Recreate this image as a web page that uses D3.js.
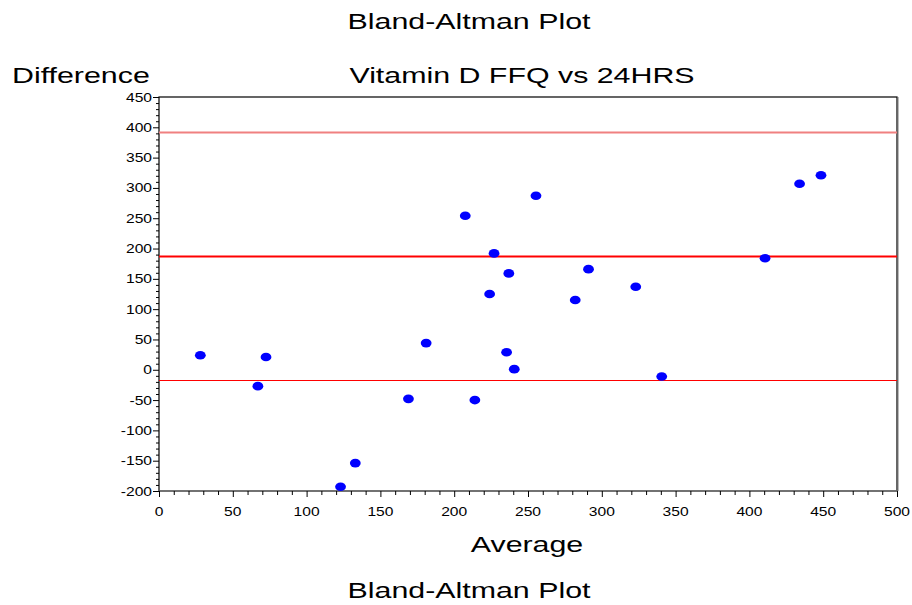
<!DOCTYPE html>
<html>
<head>
<meta charset="utf-8">
<script src="https://cdn.jsdelivr.net/npm/d3@7"></script>
<style>
   html, body { margin: 0; padding: 0; background: #fff; }
   svg { display: block; font-family: "Liberation Sans", Arial, sans-serif; }
</style>
</head>
<body>
<svg id="chart"></svg>
<script>
// averages (x) and differences (y)
const average = [28, 67, 72.5, 123, 133, 169, 181, 207.5, 214, 224, 227, 235.5, 237, 240.7,
   255.4, 282, 291, 323, 340.6, 410.6, 434, 448.5];
const difference = [24, -27, 21, -193, -154, -48, 44, 254, -50, 125, 192, 29, 159, 1,
   287, 115, 166, 137, -11, 184, 307, 321];

// mean difference and limits of agreement
const meanDiff = 188;
const upperLimit = 392.5;
const lowerLimit = -16.5;

const xTicks = [0, 50, 100, 150, 200, 250, 300, 350, 400, 450, 500];
const yTicks = [-200, -150, -100, -50, 0, 50, 100, 150, 200, 250, 300, 350, 400, 450];

const width = 912, height = 605;
const margin = { top: 97, right: 15, bottom: 114, left: 159 };

const svg = d3.select("#chart").attr("width", width).attr("height", height);

const x = d3.scaleLinear().domain([0, 500]).range([margin.left, width - margin.right]);
const y = d3.scaleLinear().domain([-200, 450]).range([height - margin.bottom, margin.top]);

// stretched text, the source renders its labels wider than the font
const label = (txt, px, py, size, sx, anchor) => {
   svg.append("g")
      .attr("transform", `translate(${px},${py}) scale(${sx},1)`)
      .append("text")
      .attr("text-anchor", anchor || "middle")
      .attr("font-size", size)
      .attr("fill", "#000")
      .text(txt);
};

// ---------------------- frame
svg.append("rect")
   .attr("x", x(0)).attr("y", y(450))
   .attr("width", x(500) - x(0)).attr("height", y(-200) - y(450))
   .attr("fill", "none")
   .attr("stroke", "#000")
   .attr("stroke-width", 1.2);
svg.append("line")
   .attr("x1", x(500) + 1.5).attr("x2", x(500) + 1.5)
   .attr("y1", y(450)).attr("y2", y(-200))
   .attr("stroke", "#bbb");
svg.append("line")
   .attr("x1", x(0)).attr("x2", x(500))
   .attr("y1", y(-200)).attr("y2", y(-200))
   .attr("stroke", "#777")
   .attr("stroke-width", 1.5);

// ---------------------- axes
const minorX = d3.range(0, 501, 10).filter(v => v % 50 !== 0);
const minorY = d3.range(-200, 451, 10).filter(v => v % 50 !== 0);

const xAxis = svg.append("g").attr("transform", `translate(0,${y(-200)})`);
xAxis.call(d3.axisBottom(x).tickValues(xTicks).tickSize(6).tickSizeOuter(0).tickFormat(""));
xAxis.call(g => g.select(".domain").remove());
xAxis.selectAll(".tick line").attr("stroke", "#000");
svg.append("g")
   .attr("transform", `translate(0,${y(-200)})`)
   .call(d3.axisBottom(x).tickValues(minorX).tickSize(4).tickFormat(""))
   .call(g => g.select(".domain").remove())
   .selectAll(".tick line").attr("stroke", "#000");

const yAxis = svg.append("g").attr("transform", `translate(${x(0)},0)`);
yAxis.call(d3.axisLeft(y).tickValues(yTicks).tickSize(6).tickSizeOuter(0).tickFormat(""));
yAxis.call(g => g.select(".domain").remove());
yAxis.selectAll(".tick line").attr("stroke", "#000");
svg.append("g")
   .attr("transform", `translate(${x(0)},0)`)
   .call(d3.axisLeft(y).tickValues(minorY).tickSize(3).tickFormat(""))
   .call(g => g.select(".domain").remove())
   .selectAll(".tick line").attr("stroke", "#000");

xTicks.forEach(v => label(v, x(v), y(-200) + 25, 12.5, 1.25, "middle"));
yTicks.forEach(v => label(v, x(0) - 7, y(v) + 4.5, 12.5, 1.25, "end"));

// ---------------------- reference lines
const refLine = (v, color, w) => svg.append("line")
   .attr("x1", x(0)).attr("x2", x(500))
   .attr("y1", Math.round(y(v)) + 0.5).attr("y2", Math.round(y(v)) + 0.5)
   .attr("stroke", color)
   .attr("stroke-width", w);
refLine(upperLimit, "#f08080", 2);
refLine(meanDiff, "#ff0000", 2.2);
refLine(lowerLimit, "#ff0000", 1);

// ---------------------- points
svg.selectAll(".pt")
   .data(average.map((a, i) => [a, difference[i]]))
   .join("ellipse")
   .attr("class", "pt")
   .attr("cx", d => x(d[0]))
   .attr("cy", d => y(d[1]))
   .attr("rx", 5.4)
   .attr("ry", 4.3)
   .attr("fill", "#0000ff");

// ---------------------- titles
label("Bland-Altman Plot", 469, 29, 22, 1.38);
label("Difference", 12, 83, 22, 1.38, "start");
label("Vitamin D FFQ vs 24HRS", 522, 83, 22, 1.38);
label("Average", 527, 552, 22, 1.38);
label("Bland-Altman Plot", 469, 598, 22, 1.38);
</script>
</body>
</html>
